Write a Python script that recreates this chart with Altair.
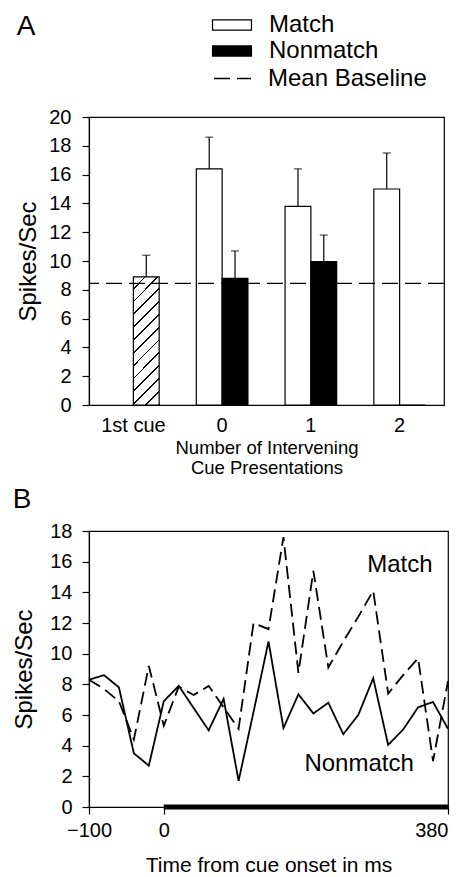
import altair as alt
import pandas as pd

FONT = "Liberation Sans"

# ---------------- Panel A data ----------------
categories = ["1st cue", "0", "1", "2"]
series_names = ["Match", "Nonmatch"]

match_cats = ["0", "1", "2"]
match_mean = [16.4, 13.8, 15.0]
match_upper = [18.6, 16.4, 17.5]

nonmatch_cats = ["0", "1", "2"]
nonmatch_mean = [8.8, 9.95, 0.0]
nonmatch_upper = [10.7, 11.8, None]

first_cue_cat = ["1st cue"]
first_cue_mean = [8.9]
first_cue_upper = [10.4]

baseline_label = ["Mean Baseline"]
baseline_value = [8.45]

# ---------------- Panel B data ----------------
time_ms = [-100, -80, -60, -40, -20, 0, 20, 40, 60, 80, 100, 120, 140,
           160, 180, 200, 220, 240, 260, 280, 300, 320, 340, 360, 380]
match_rate = [8.3, 7.7, 6.9, 4.4, 9.2, 5.3, 7.85, 7.3, 7.9, 6.5, 5.1, 12.0, 11.6,
              17.6, 8.75, 15.4, 9.1, 10.8, 12.4, 14.1, 7.4, 8.6, 9.7, 3.0, 8.2]
nonmatch_rate = [8.3, 8.6, 7.8, 3.5, 2.7, 6.9, 7.9, 6.45, 5.0, 7.05, 1.7, 6.2, 10.8,
                 5.15, 7.35, 6.1, 6.8, 4.75, 6.0, 8.4, 4.05, 5.05, 6.5, 6.85, 5.1]

cue_start = [0]
cue_end = [380]

annot_text = ["Match", "Nonmatch"]
annot_time = [272, 188]
annot_rate = [15.8, 2.8]

# ---------------- tables ----------------
bars_df = pd.DataFrame({
    "category": match_cats + nonmatch_cats,
    "series": ["Match"] * len(match_cats) + ["Nonmatch"] * len(nonmatch_cats),
    "mean": match_mean + nonmatch_mean,
})
first_df = pd.DataFrame({"category": first_cue_cat, "series": ["Nonmatch"],
                         "mean": first_cue_mean})
err_rows = []
for c, m, u in zip(match_cats, match_mean, match_upper):
    if u is not None:
        err_rows.append({"category": c, "series": "Match", "mean": m, "upper": u})
for c, m, u in zip(nonmatch_cats, nonmatch_mean, nonmatch_upper):
    if u is not None:
        err_rows.append({"category": c, "series": "Nonmatch", "mean": m, "upper": u})
for c, m, u in zip(first_cue_cat, first_cue_mean, first_cue_upper):
    err_rows.append({"category": c, "series": "Nonmatch", "mean": m, "upper": u})
err_df = pd.DataFrame(err_rows)
base_df = pd.DataFrame({"label": baseline_label, "mean": baseline_value})

line_df = pd.DataFrame({
    "time": time_ms * 2,
    "rate": match_rate + nonmatch_rate,
    "series": ["Match"] * len(time_ms) + ["Nonmatch"] * len(time_ms),
})
cue_df = pd.DataFrame({"time": cue_start, "end": cue_end, "rate": [0]})
annot_df = pd.DataFrame({"text": annot_text, "time": annot_time, "rate": annot_rate})

# ---------------- hatch fill (style) ----------------
N_STRIPES = 12
LINE_FRAC = 0.14
stops = []
for k in range(N_STRIPES):
    a = k / N_STRIPES
    b = (k + 1 - LINE_FRAC) / N_STRIPES
    c = (k + 1) / N_STRIPES
    stops += [alt.GradientStop(offset=a, color="white"),
              alt.GradientStop(offset=b, color="white"),
              alt.GradientStop(offset=b, color="black"),
              alt.GradientStop(offset=c, color="black")]
hatch = alt.LinearGradient(gradient="linear", stops=stops,
                           x1=0, y1=0, x2=0.234, y2=1.154)

# ---------------- Panel A ----------------
axisXA = alt.Axis(title=["Number of Intervening", "Cue Presentations"],
                  labelAngle=0, ticks=False, tickSize=0, labelFontSize=20,
                  labelPadding=10, titleFontSize=18.5, titleLineHeight=20,
                  titlePadding=3)
axisYA = alt.Axis(values=list(range(0, 21, 2)), title="Spikes/Sec",
                  tickSize=7, labelFontSize=20, labelPadding=11,
                  labelOverlap=False, titleFontSize=24, titlePadding=8)
scaleYA = alt.Scale(domain=[0, 20], nice=False)

xA = alt.X("category:N", sort=categories,
           scale=alt.Scale(domain=categories, paddingInner=0, paddingOuter=0),
           axis=axisXA)
xoA = alt.XOffset("series:N",
                  scale=alt.Scale(domain=series_names, paddingInner=0, paddingOuter=0.72))
yA = alt.Y("mean:Q", scale=scaleYA, axis=axisYA)

bars = alt.Chart(bars_df).mark_bar(stroke="black", strokeWidth=1.2).encode(
    x=xA, xOffset=xoA, y=yA,
    fill=alt.Fill("series:N",
                  scale=alt.Scale(domain=series_names, range=["white", "black"]),
                  legend=alt.Legend(orient="none", legendX=131, legendY=-104,
                                    title=None, padding=0,
                                    symbolType="M-1.9,-0.5L1.9,-0.5L1.9,0.5L-1.9,0.5Z",
                                    symbolSize=420, symbolStrokeColor="black",
                                    symbolStrokeWidth=1.2, labelFontSize=24,
                                    labelFont=FONT, labelOffset=25, rowPadding=2,
                                    labelColor="black")),
)
first = alt.Chart(first_df).mark_bar(stroke="black", strokeWidth=1.2, fill=hatch).encode(
    x=xA, xOffset=xoA, y=yA)
errs = alt.Chart(err_df).mark_rule(color="black", strokeWidth=1.2).encode(
    x=xA, xOffset=xoA, y=yA, y2="upper:Q")
caps = alt.Chart(err_df).mark_tick(color="black", thickness=1.2, size=8).encode(
    x=xA, xOffset=xoA, y=alt.Y("upper:Q", scale=scaleYA, axis=axisYA))
base = alt.Chart(base_df).mark_rule(color="black", strokeWidth=1.3).encode(
    y=yA,
    strokeDash=alt.StrokeDash("label:N",
                              scale=alt.Scale(domain=baseline_label, range=[[16, 7]]),
                              legend=alt.Legend(orient="none", legendX=124, legendY=-58,
                                                title=None, padding=0, symbolType="stroke",
                                                symbolSize=1369, symbolStrokeColor="black",
                                                symbolStrokeWidth=1.3, labelFontSize=24,
                                                labelFont=FONT, labelOffset=16,
                                                labelColor="black")),
)

panelA = alt.layer(bars, first, errs, caps, base).properties(
    width=355, height=288,
    title=alt.TitleParams("A", anchor="start", frame="bounds", fontSize=28,
                          font=FONT, fontWeight="normal", color="black", dy=32),
)

# ---------------- Panel B ----------------
axisXB = alt.Axis(values=[-100, 0, 380], title="Time from cue onset in ms",
                  tickSize=7, labelFontSize=20, labelPadding=6,
                  titleFontSize=21, titlePadding=14,
                  labelAlign={"condition": {"test": "datum.value === 380",
                                            "value": "right"},
                              "value": "center"})
axisYB = alt.Axis(values=list(range(0, 19, 2)), title="Spikes/Sec",
                  tickSize=7, labelFontSize=20, labelPadding=10,
                  labelOverlap=False, titleFontSize=24, titlePadding=13)
xB = alt.X("time:Q", scale=alt.Scale(domain=[-100, 380], nice=False, zero=False),
           axis=axisXB)
yB = alt.Y("rate:Q", scale=alt.Scale(domain=[0, 18], nice=False), axis=axisYB)

lines = alt.Chart(line_df).mark_line(color="black", strokeWidth=1.8).encode(
    x=xB, y=yB,
    strokeDash=alt.StrokeDash("series:N",
                              scale=alt.Scale(domain=series_names,
                                              range=[[13, 6], [1, 0]]),
                              legend=None),
)
cue = alt.Chart(cue_df).mark_rule(color="black", strokeWidth=5).encode(
    x=xB, x2="end:Q", y=yB)
annots = alt.Chart(annot_df).mark_text(align="left", baseline="middle", fontSize=24,
                                       font=FONT, color="black").encode(
    x=xB, y=yB, text="text:N")

panelB = alt.layer(lines, cue, annots).properties(
    width=359, height=276,
    title=alt.TitleParams("B", anchor="start", frame="bounds", fontSize=28,
                          font=FONT, fontWeight="normal", color="black", dy=-3),
)

chart = alt.concat(panelA, panelB, columns=1, spacing=7, align="none").resolve_scale(
    strokeDash="independent", fill="independent"
).properties(
    padding={"left": 12, "top": 12, "right": 2, "bottom": 0}
).configure(font=FONT).configure_view(
    stroke="black", strokeWidth=1.2
).configure_axis(
    labelFont=FONT, titleFont=FONT, labelColor="black", titleColor="black",
    domainColor="black", tickColor="black", titleFontWeight="normal", grid=False,
    domainWidth=1.2, tickWidth=1.2
)

chart.save("out.html", embed_options={"renderer": "svg", "actions": False})
